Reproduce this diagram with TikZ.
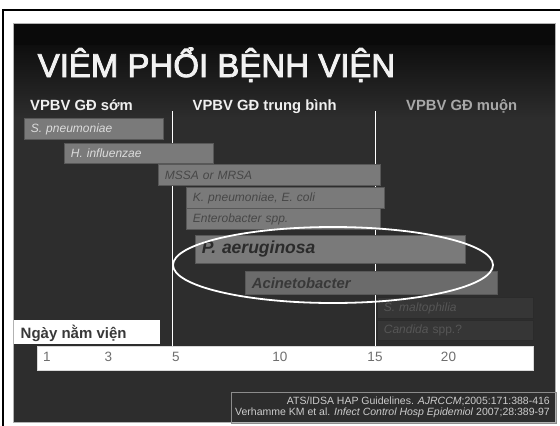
\documentclass[tikz,border=0pt]{standalone}
\usepackage{fontspec}
\setmainfont{Liberation Sans}
\newfontface\titleface{Liberation Sans}[FakeBold=2.5]
\usetikzlibrary{shapes.geometric}
\definecolor{slidebg}{HTML}{2D2D2D}
\definecolor{barfill}{HTML}{7A7A7A}
\definecolor{barline}{HTML}{585858}
\definecolor{lighttxt}{HTML}{DCDCDC}
\definecolor{darktxt}{HTML}{474747}
\definecolor{dimfill}{HTML}{363636}
\definecolor{dimtxt}{HTML}{565656}
\definecolor{axistxt}{HTML}{6E6E6E}
\begin{document}
\begin{tikzpicture}[x=1pt,y=-1pt,
  bar/.style={draw=barline, fill=barfill, line width=0.8pt, rectangle, anchor=north west,
    inner xsep=6.5pt, inner ysep=0pt, align=left, text=darktxt,
    font=\fontsize{12}{12}\selectfont\itshape},
  lightbar/.style={bar, text=lighttxt},
  dimbar/.style={bar, fill=dimfill, draw=dimfill!80!black, text=dimtxt},
  heading/.style={anchor=base west, inner sep=0pt, font=\fontsize{14.8}{15}\selectfont\bfseries},
  daynum/.style={anchor=base, inner sep=0pt, text=axistxt, font=\fontsize{13.5}{13.5}\selectfont},
  vline/.style={white, line width=1.6pt}
]
\useasboundingbox (0,0) rectangle (560,426);
\fill[white] (0,0) rectangle (560,426);
% outer frame
\draw[black, line width=1.6pt] (3.2,426) -- (3.2,9.8) -- (560,9.8);
% slide background
\fill[slidebg] (13.5,23) rectangle (555.5,422.5);
\shade[top color=black!98!white, bottom color=slidebg] (13.5,23) rectangle (555.5,118);
\fill[black!96!white] (13.5,23) rectangle (555.5,45);
\draw[black!30, line width=0.8pt] (13.5,23) rectangle (555.5,422.5);

% title
\node[anchor=base west, inner sep=0pt, text=white!95!black, font=\fontsize{33}{33}\titleface] (title) at (37.5,77) {VIÊM PHỔI BỆNH VIỆN};

% headings
\node[heading, text=white!94!black] (h1) at (30,110) {VPBV GĐ sớm};
\node[heading, text=white!94!black] (h2) at (192.5,110) {VPBV GĐ trung bình};
\node[heading, text=white!66!black] (h3) at (406,110) {VPBV GĐ muộn};

% axis bar and label box
\node[fill=white, draw=white!85!black, line width=0.6pt, anchor=north west, minimum width=496, minimum height=24, inner sep=0pt] (axis) at (37,346) {};
\node[fill=white, anchor=north west, minimum width=146.5, minimum height=24, inner sep=0pt] (ngaybox) at (13.5,319.5) {};
\node[anchor=base west, inner sep=0pt, text=black!78, font=\fontsize{15}{15}\selectfont\bfseries] (ngay) at (20.5,338) {Ngày nằm viện};

% vertical day lines
\coordinate (t5) at (172.5,111);
\coordinate (t15) at (375.5,111);
\draw[vline] (t5) -- (t5 |- axis.north);
\draw[vline] (t15) -- (t15 |- axis.north);

% bars
\node[lightbar, text width=126, minimum height=21] (spn) at (24,118) {S. pneumoniae};
\node[lightbar, text width=136, minimum height=20] (hin) at (64,143) {H. influenzae};
\node[bar, text width=209, minimum height=21] (mssa) at (158,164) {MSSA or MRSA};
\node[bar, text width=185, minimum height=21] (kpn) at (186,187) {K. pneumoniae, E. coli};
\node[bar, text width=181, minimum height=21] (ent) at (186,208) {Enterobacter spp.};
\node[bar, text width=257, minimum height=28, text=black!83, font=\fontsize{17.5}{17.5}\selectfont\bfseries\itshape] (pae) at (195,235) {P. aeruginosa};
\node[bar, fill=barfill!88!black, text width=239, minimum height=23, text=black!78, font=\fontsize{14.8}{14.8}\selectfont\bfseries\itshape] (aci) at (245,271) {Acinetobacter};
\node[dimbar, text width=143, minimum height=21] (sma) at (377,297) {S. maltophilia};
\node[dimbar, text width=143, minimum height=20] (can) at (377,320) {Candida \upshape spp.?};

% oval
\node[draw=white, line width=1.8pt, ellipse, minimum width=320, minimum height=76, inner sep=0pt] (oval) at (333,265) {};

% day numbers
\node[daynum] (d1) at (47,361.5) {1};
\node[daynum] (d3) at (108.5,361.5) {3};
\node[daynum] (d5) at (176,361.5) {5};
\node[daynum] (d10) at (280,361.5) {10};
\node[daynum] (d15) at (375,361.5) {15};
\node[daynum] (d20) at (448.5,361.5) {20};

% citation
\node[draw=white!55!black, line width=0.8pt, anchor=north west, minimum width=324.5, minimum height=30.5, inner sep=0pt] (citebox) at (231,392) {};
\node[anchor=east, inner sep=0pt, align=right, text=white!80!black, font=\fontsize{10.5}{11}\selectfont] (cite) at (550,407.5)
  {ATS/IDSA HAP Guidelines. \textit{AJRCCM};2005:171:388-416\\Verhamme KM et al. \textit{Infect Control Hosp Epidemiol} 2007;28:389-97};
\end{tikzpicture}
\end{document}
